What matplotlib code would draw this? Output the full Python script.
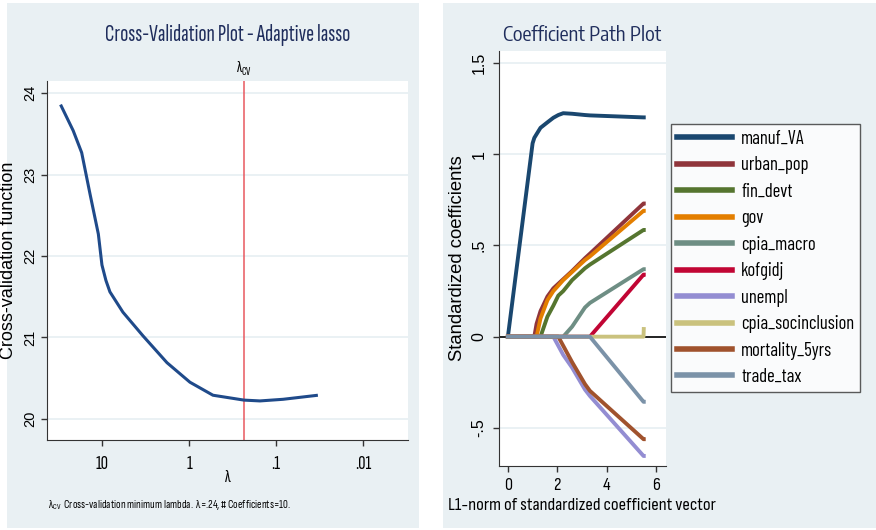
import math
import matplotlib
matplotlib.use("Agg")
import matplotlib.pyplot as plt
from matplotlib import font_manager
from matplotlib.patches import Rectangle

# ---------------- data ----------------
# Left panel: cross-validation function vs lambda
cv_lambda = [29.9, 21.4, 17.1, 13.7, 11.0, 10.0, 9.0, 8.1, 5.74, 3.38, 1.79, 0.975,
             0.53, 0.233, 0.153, 0.083, 0.033]
cv_value = [23.86, 23.54, 23.27, 22.76, 22.27, 21.89, 21.70, 21.56, 21.31, 21.02,
            20.69, 20.45, 20.29, 20.23, 20.22, 20.24, 20.29]
lambda_cv = 0.233
cv_xticks = [10, 1, 0.1, 0.01]
cv_xticklabels = ["10", "1", ".1", ".01"]
cv_yticks = [20, 21, 22, 23, 24]

# Right panel: coefficient paths (common L1-norm knots)
l1_norm = [0.0, 1.0, 1.07, 1.16, 1.32, 1.6, 1.84, 2.04, 2.24, 2.6, 3.12, 3.32, 5.49, 5.5]
manuf_VA = [0, 1.06, 1.09, 1.11, 1.145, 1.175, 1.20, 1.215, 1.225, 1.222, 1.215, 1.213, 1.202, 1.202]
urban_pop = [0, 0, 0, 0.07, 0.14, 0.22, 0.265, 0.29, 0.315, 0.36, 0.43, 0.455, 0.73, 0.73]
fin_devt = [0, 0, 0, 0, 0, 0.11, 0.17, 0.225, 0.25, 0.31, 0.375, 0.395, 0.585, 0.585]
gov = [0, 0, 0, 0, 0.10, 0.20, 0.25, 0.28, 0.31, 0.355, 0.42, 0.44, 0.69, 0.69]
cpia_macro = [0, 0, 0, 0, 0, 0, 0, 0, 0, 0.055, 0.16, 0.185, 0.37, 0.37]
kofgidj = [0, 0, 0, 0, 0, 0, 0, 0, 0, 0, 0, 0, 0.34, 0.34]
unempl = [0, 0, 0, 0, 0, 0, 0, -0.05, -0.10, -0.17, -0.29, -0.325, -0.654, -0.654]
cpia_socinclusion = [0, 0, 0, 0, 0, 0, 0, 0, 0, 0, 0, 0, 0, 0.042]
mortality_5yrs = [0, 0, 0, 0, 0, 0, 0, 0, -0.05, -0.14, -0.26, -0.297, -0.562, -0.562]
trade_tax = [0, 0, 0, 0, 0, 0, 0, 0, 0, 0, 0, 0, -0.357, -0.357]

series_names = ["manuf_VA", "urban_pop", "fin_devt", "gov", "cpia_macro", "kofgidj",
                "unempl", "cpia_socinclusion", "mortality_5yrs", "trade_tax"]
series_values = [manuf_VA, urban_pop, fin_devt, gov, cpia_macro, kofgidj,
                 unempl, cpia_socinclusion, mortality_5yrs, trade_tax]
series_colors = ["#1a476f", "#90353b", "#55752f", "#e37e00", "#6e8e84",
                 "#c10534", "#938dd2", "#cac27e", "#a0522d", "#7b92a8"]
path_xticks = [0, 2, 4, 6]
path_yticks = [-0.5, 0, 0.5, 1, 1.5]
path_yticklabels = ["-.5", "0", ".5", "1", "1.5"]

left_title = "Cross-Validation Plot - Adaptive lasso"
right_title = "Coefficient Path Plot"
right_xlabel = "L1-norm of standardized coefficient vector"
note_text = r"λ$_{\mathregular{CV}}$  Cross-validation minimum lambda.  λ=.24, # Coefficients=10."

W, H = 876, 530
fig = plt.figure(figsize=(W / 100, H / 100), dpi=100, facecolor="white")
fig.canvas.draw()
R = fig.canvas.get_renderer()

# ---------------- font helpers ----------------
names = {f.name for f in font_manager.fontManager.ttflist}
cands = ["Liberation Sans", "Liberation Sans Narrow", "Arial Narrow", "PT Sans Narrow",
         "Roboto Condensed", "Archivo Narrow", "Asap Condensed", "Barlow Semi Condensed",
         "Barlow Condensed", "Fira Sans Condensed", "Fira Sans Extra Condensed",
         "Sofia Sans Condensed", "Sofia Sans Extra Condensed", "Encode Sans Condensed",
         "Encode Sans Compressed", "Saira Condensed", "Saira Extra Condensed",
         "IBM Plex Sans Condensed"]
avail = [c for c in cands if c in names] or ["DejaVu Sans"]
PT = 72.0 / 100.0  # points per pixel at dpi 100


def pick_font(s, target_w, em_px):
    """Choose the family whose natural width at em_px best matches target_w,
    then return (family, fontsize_pt) fitted to the width."""
    best = None
    for c in avail:
        t = fig.text(0, 0, s, fontsize=em_px * PT, family=[c, "DejaVu Sans"])
        w = t.get_window_extent(R).width
        t.remove()
        sc = abs(math.log(w / target_w))
        if best is None or sc < best[0]:
            best = (sc, c, em_px * PT * target_w / w)
    return best[1], best[2]


def fam(c):
    return [c, "DejaVu Sans"]


F_LT, S_LT = pick_font(left_title, 245, 23.3)
F_RT, S_RT = pick_font(right_title, 158, 20.0)
F_RX, S_RX = pick_font(right_xlabel, 268, 18.6)
F_NT, S_NT = pick_font(note_text, 243, 11.5)
F_LG, S_LG = pick_font("cpia_socinclusion", 113, 18.5)
REG = "Liberation Sans" if "Liberation Sans" in names else "DejaVu Sans"
plt.rcParams["font.family"] = fam(REG)


def fx(px):
    return px / W


def fy(py):
    return 1 - py / H


BG = "#e9f0f3"
GRID = "#e6eff2"
TITLE = "#1f2d5c"
AX = "#333333"

fig.add_artist(Rectangle((fx(7), fy(528)), fx(419) - fx(7), fy(3) - fy(528),
                         transform=fig.transFigure, facecolor=BG, edgecolor="none", zorder=-10))
fig.add_artist(Rectangle((fx(443), fy(528)), fx(876) - fx(443), fy(3) - fy(528),
                         transform=fig.transFigure, facecolor=BG, edgecolor="none", zorder=-10))

# ---------------- left panel ----------------
ax1 = fig.add_axes([fx(47), fy(440), fx(408) - fx(47), fy(81) - fy(440)])
ax1.set_xscale("log")
ax1.set_xlim(42.8, 0.00304)
ax1.set_ylim(19.74, 24.15)
for t in cv_yticks:
    ax1.axhline(t, color=GRID, lw=1.2, zorder=0)
ax1.axvline(lambda_cv, color="#e8585f", lw=1.1, zorder=1)
ax1.plot(cv_lambda, cv_value, color="#1f4a8a", lw=2.2, solid_capstyle="butt",
         solid_joinstyle="round", zorder=2)
ax1.set_xticks(cv_xticks)
ax1.set_xticklabels(cv_xticklabels, fontsize=14.5, family=fam(F_LT))
ax1.xaxis.set_minor_locator(matplotlib.ticker.NullLocator())
ax1.set_yticks(cv_yticks)
ax1.set_yticklabels([str(t) for t in cv_yticks], fontsize=10.5, rotation=90, va="center")
ylab1 = ax1.set_ylabel("Cross-validation function", fontsize=12.5)
ax1.yaxis.set_label_coords((17 - 47) / 361, 0.5)
ax1.set_xlabel("λ", fontsize=13, family=fam(F_LT))
ax1.xaxis.set_label_coords(0.5, -(470 - 440) / 359)
for s in ["top", "right"]:
    ax1.spines[s].set_visible(False)
for s in ["left", "bottom"]:
    ax1.spines[s].set_color(AX)
ax1.tick_params(colors=AX, length=4, width=1, labelcolor="black")
ax1.tick_params(axis="x", pad=7)
ax1.tick_params(axis="y", pad=3)
fig.text(fx(228), fy(35), left_title, ha="center", va="center",
         fontsize=S_LT, color=TITLE, family=fam(F_LT))
ax1.text(lambda_cv, 1.012, r"λ$_{\mathregular{CV}}$", transform=ax1.get_xaxis_transform(),
         ha="center", va="bottom", fontsize=12, family=fam(F_LT))
fig.text(fx(48), fy(505), note_text, ha="left", va="center", fontsize=S_NT, family=fam(F_NT))

# ---------------- right panel ----------------
ax2 = fig.add_axes([fx(499), fy(466), fx(666) - fx(499), fy(51) - fy(466)])
ax2.set_xlim(-0.36, 6.4)
ax2.set_ylim(-0.709, 1.566)
for t in path_yticks:
    ax2.axhline(t, color=GRID, lw=1.2, zorder=0)
ax2.axhline(0, color="black", lw=1.2, zorder=1)
handles = []
for name, vals, col in zip(series_names, series_values, series_colors):
    h, = ax2.plot(l1_norm, vals, color=col, lw=2.8, label=name, zorder=2,
                  solid_joinstyle="round")
    handles.append(h)
ax2.set_xticks(path_xticks)
ax2.set_xticklabels([str(t) for t in path_xticks], fontsize=13, family=fam(F_RX))
ax2.set_yticks(path_yticks)
ax2.set_yticklabels(path_yticklabels, fontsize=11.5, rotation=90, va="center")
ylab2 = ax2.set_ylabel("Standardized coefficients", fontsize=13.5)
ax2.yaxis.set_label_coords((466 - 499) / 167, 0.5)
for s in ["top", "right"]:
    ax2.spines[s].set_visible(False)
for s in ["left", "bottom"]:
    ax2.spines[s].set_color(AX)
ax2.tick_params(colors=AX, length=4, width=1, labelcolor="black", pad=5)
fig.text(fx(503), fy(35), right_title, ha="left", va="center",
         fontsize=S_RT, color=TITLE, family=fam(F_RT))
fig.text(fx(448), fy(505), right_xlabel, ha="left", va="center",
         fontsize=S_RX, family=fam(F_RX))

# fit rotated axis labels to their lengths in the reference
fig.canvas.draw()
for t, target in [(ylab1, 198), (ylab2, 206)]:
    hgt = t.get_window_extent(R).height
    t.set_fontsize(t.get_fontsize() * target / hgt)

# legend: target box 671..860 x 124..392 px
fs_px = S_LG / PT


def make_legend(ls):
    lg = fig.legend(handles=handles, loc="upper left",
                    bbox_to_anchor=(fx(671), fy(124)), bbox_transform=fig.transFigure,
                    prop={"family": fam(F_LG), "size": S_LG}, frameon=True, fancybox=False,
                    handlelength=55 / fs_px, handletextpad=9 / fs_px, labelspacing=ls,
                    borderpad=6 / fs_px, borderaxespad=0)
    lg.get_frame().set_edgecolor("#333333")
    lg.get_frame().set_linewidth(1.0)
    for ln in lg.get_lines():
        ln.set_linewidth(4)
    return lg


ls0 = 0.4
leg = make_legend(ls0)
fig.canvas.draw()
hh = leg.get_window_extent(R).height
leg.remove()
leg = make_legend(max(0.0, ls0 + (268 - hh) / 9 / fs_px))

fig.savefig("out.png", dpi=100, facecolor="white")
